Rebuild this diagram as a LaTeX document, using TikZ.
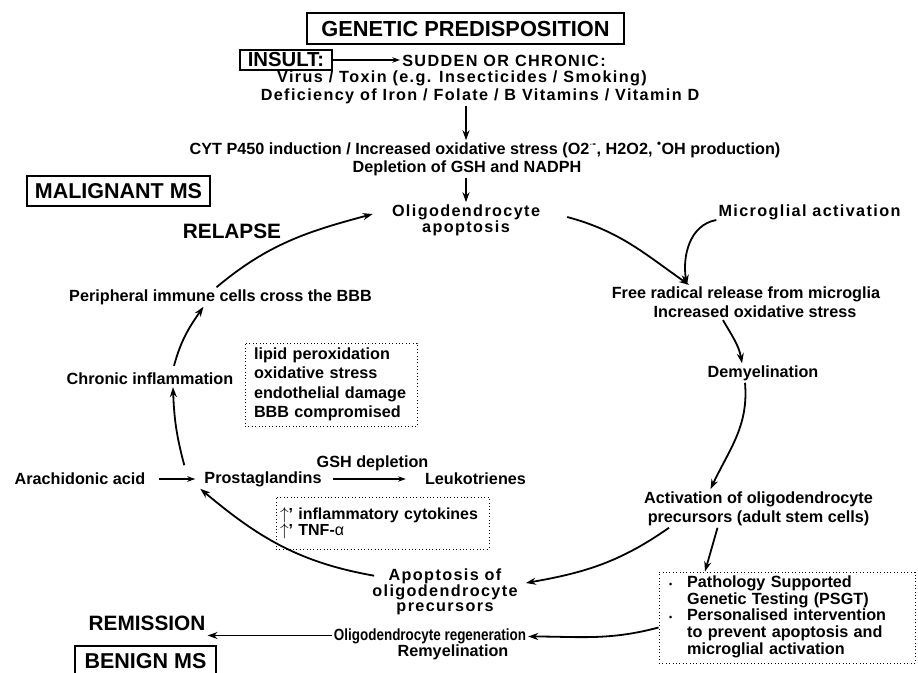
\documentclass[tikz,border=0pt]{standalone}
\usepackage{fontspec}
\setmainfont{Liberation Sans}
\usetikzlibrary{arrows.meta}

\newcommand{\spaced}[1]{{\addfontfeature{LetterSpace=8.5}#1}}
\newcommand{\bodyfont}{\bfseries\fontsize{16.2}{19}\selectfont}

\begin{document}
\begin{tikzpicture}[x=1pt, y=1pt, inner sep=2pt, font=\bodyfont,
	headBox/.style={rectangle, draw, line width=1.2pt, inner sep=0pt, font=\bfseries\fontsize{21.5}{24}\selectfont},
	bigText/.style={font=\bfseries\fontsize{20.8}{24}\selectfont},
	dotBox/.style={rectangle, draw, line width=1pt, dash pattern=on 1pt off 2.4pt, inner ysep=0pt},
	cycleArrow/.style={line width=1.8pt, -{Stealth[length=10pt, width=7pt]}},
	lineArrow/.style={line width=1.2pt, -{Stealth[length=8pt, width=5.5pt]}}]

	\useasboundingbox (0,0) rectangle (918,-672);

	% boxed headings and stage labels
	\node[headBox, minimum width=317pt, minimum height=31pt, font=\bfseries\fontsize{21.8}{24}\selectfont](geneticBox) at (465.5,-28.5){GENETIC PREDISPOSITION};
	\node[headBox, minimum width=92pt, minimum height=20pt, font=\bfseries\fontsize{20.3}{22}\selectfont](insultBox) at (286,-60){INSULT:};
	\node[headBox, minimum width=183pt, minimum height=30pt](malignantBox) at (118.5,-191){MALIGNANT MS};
	\node[headBox, minimum width=141pt, minimum height=30pt](benignBox) at (145.5,-661){BENIGN MS};
	\node[bigText](relapse) at (232,-231){RELAPSE};
	\node[bigText](remission) at (147,-623){REMISSION};

	% insult chain
	\node(suddenText) at (504,-61){\spaced{SUDDEN OR CHRONIC:}};
	\node(virusText) at (462,-78){\spaced{Virus / Toxin (e.g. Insecticides / Smoking)}};
	\node(deficiencyText) at (480,-96){\spaced{Deficiency of Iron / Folate / B Vitamins / Vitamin D}};
	\node(cytText) at (485,-150){CYT P450 induction / Increased oxidative stress (O2\textsuperscript{$\cdot$-}, H2O2, \textsuperscript{\textbullet}OH production)};
	\node(depletionText) at (467,-168){Depletion of GSH and NADPH};

	% right half of the cycle
	\node[align=center, font=\bfseries\fontsize{16.2}{16}\selectfont](oligoApoptosis) at (466,-220){\spaced{Oligodendrocyte}\\\spaced{apoptosis}};
	\node(microglial) at (809.5,-212){\spaced{Microglial activation}};
	\node[align=center](freeRadical) at (746,-302.5){Free radical release from microglia\\\hspace*{18pt}Increased oxidative stress};
	\node(demyelination) at (763,-373){Demyelination};
	\node[align=center](activation) at (758.5,-508.5){Activation of oligodendrocyte\\precursors (adult stem cells)};
	\node[dotBox, minimum width=256pt, minimum height=91pt, text width=236pt, inner xsep=10pt, align=left, font=\bfseries\fontsize{16.2}{16.3}\selectfont](pathologyBox) at (787,-617.5){%
		\begin{tabular}{@{}l@{\hspace{15pt}}l@{}}
		{\fontsize{9}{9}\selectfont\textbullet} & Pathology Supported\\
		& Genetic Testing (PSGT)\\
		{\fontsize{9}{9}\selectfont\textbullet} & Personalised intervention\\
		& to prevent apoptosis and\\
		& microglial activation
		\end{tabular}};

	% bottom of the cycle
	\node[align=center, font=\bfseries\fontsize{16.2}{15}\selectfont](apoptosisPrec) at (445,-592){\spaced{Apoptosis of}\\\spaced{oligodendrocyte}\\\spaced{precursors}};
	\node[align=center, font=\bfseries\fontsize{16.2}{15}\selectfont](regeneration) at (430,-644.5){{\addfontfeature{FakeStretch=0.83}Oligodendrocyte regeneration}\\\hspace*{46pt}Remyelination};

	% left half of the cycle
	\node(periCells) at (220.5,-297){Peripheral immune cells cross the BBB};
	\node(chronicInfl) at (150,-379){Chronic inflammation};
	\node[dotBox, minimum width=172pt, minimum height=83pt, text width=154pt, inner xsep=9pt, align=left, font=\bfseries\fontsize{16.2}{19.5}\selectfont](stressBox) at (331,-384.5){lipid peroxidation\\oxidative stress\\endothelial damage\\BBB compromised};
	\node(arachidonic) at (80,-479){Arachidonic acid};
	\node(prostaglandins) at (263,-479){Prostaglandins};
	\node(gshDepletion) at (372.5,-463){GSH depletion};
	\node(leukotrienes) at (475.5,-479){Leukotrienes};
	\node[dotBox, minimum width=213pt, minimum height=52pt, text width=205pt, inner xsep=4pt, align=left, font=\bfseries\fontsize{16}{15}\selectfont](cytokineBox) at (382.5,-523){$\uparrow$' inflammatory cytokines\\$\uparrow$' TNF-{\mdseries α}};

	% straight arrows
	\draw[lineArrow] (insultBox.east) -- (insultBox.east -| suddenText.west);
	\draw[cycleArrow] (oligoApoptosis.north |- deficiencyText.south) -- (oligoApoptosis.north |- cytText.north);
	\draw[cycleArrow] (oligoApoptosis.north |- depletionText.south) -- (oligoApoptosis.north);
	\draw[lineArrow, shorten <=12pt, shorten >=7pt] (arachidonic.east) -- (prostaglandins.west);
	\draw[lineArrow, shorten <=9pt, shorten >=17pt] (prostaglandins.east) -- (leukotrienes.west);
	\draw[cycleArrow] ([xshift=-41pt]activation.south) -- ([xshift=-82pt]pathologyBox.north);
	\draw[cycleArrow] ([yshift=9pt]regeneration.west) -- ([yshift=9pt]regeneration.west -| remission.east);

	% curved arrows round the cycle
	\draw[cycleArrow] ([xshift=-4pt]periCells.north) to[out=40, in=195] ([shift={(-17pt,6pt)}]oligoApoptosis.west);
	\draw[cycleArrow] ([shift={(25pt,3pt)}]oligoApoptosis.east) to[out=-15, in=145] ([xshift=-57pt]freeRadical.north);
	\draw[cycleArrow] ([yshift=-8pt]microglial.west) to[out=190, in=100] ([xshift=-59pt]freeRadical.north);
	\draw[cycleArrow] ([xshift=-23pt]freeRadical.south) to[out=-60, in=100] ([xshift=-21pt]demyelination.north);
	\draw[cycleArrow] ([xshift=-18pt]demyelination.south) to[out=-85, in=65] ([xshift=-48pt]activation.north);
	\draw[cycleArrow] ([xshift=27pt]activation.south west) to[out=215, in=10] ([shift={(6pt,9pt)}]apoptosisPrec.east);
	\draw[cycleArrow] ([shift={(4pt,-9pt)}]apoptosisPrec.north west) to[out=170, in=-40] ([xshift=-2pt]prostaglandins.south west);
	\draw[cycleArrow] ([shift={(-18pt,4pt)}]prostaglandins.north west) to[out=105, in=-88] ([xshift=23pt]chronicInfl.south);
	\draw[cycleArrow] ([shift={(24pt,5pt)}]chronicInfl.north) to[out=75, in=-125] ([xshift=-17pt]periCells.south);
	\draw[cycleArrow] ([yshift=-10pt]pathologyBox.west) to[out=195, in=0] ([yshift=8pt]regeneration.east);
\end{tikzpicture}
\end{document}
